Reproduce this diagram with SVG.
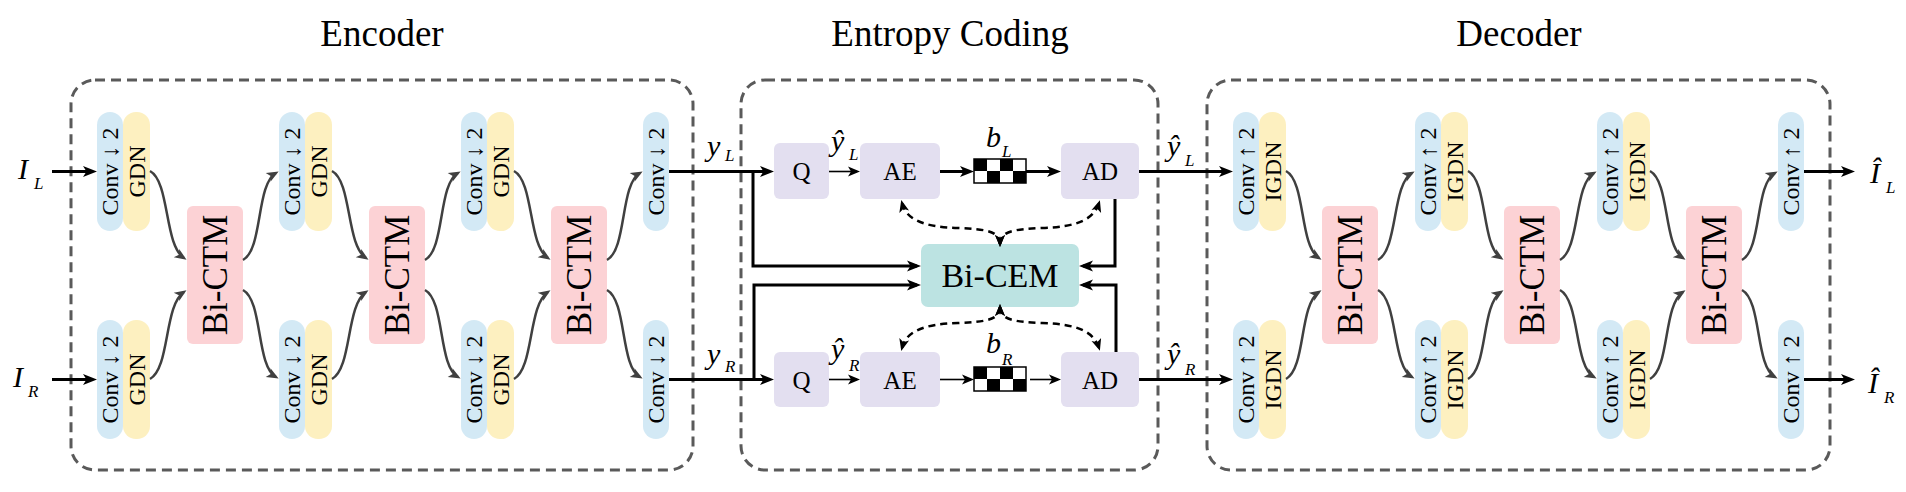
<svg xmlns="http://www.w3.org/2000/svg" width="1906" height="492" viewBox="0 0 1906 492">
<style>
text{font-family:'Liberation Serif','Times New Roman','DejaVu Serif',serif;fill:#000}
.title{font-size:37px;text-anchor:middle}
.box{fill:none;stroke:#5a5a5a;stroke-width:3;stroke-dasharray:10 6}
.cb{fill:#d3e9f5}
.cy{fill:#fdf0c0}
.ctm{fill:#fcd2d5}
.ent{fill:#e3dff0}
.cem{fill:#bce3e2}
.rt{font-size:24px;text-anchor:middle}
.bt{font-size:35px;text-anchor:middle}
.et{font-size:25px;text-anchor:middle}
.mi{font-style:italic;font-size:30px}
.sub{font-style:italic;font-size:17px}
.thick{fill:none;stroke:#000;stroke-width:3}
.thin{fill:none;stroke:#000;stroke-width:1.6}
.curve{fill:none;stroke:#404040;stroke-width:2.5}
.dash{fill:none;stroke:#000;stroke-width:2.5;stroke-dasharray:7 5}
</style>
<defs>
<marker id="ak" viewBox="-11 -6 16 12" refX="0" refY="0" markerWidth="16" markerHeight="12" markerUnits="userSpaceOnUse" orient="auto"><path d="M4,0 L-10,-5.5 L-6.5,0 L-10,5.5 Z" fill="#000"/></marker>
<marker id="at" viewBox="-10 -6 14 12" refX="0" refY="0" markerWidth="14" markerHeight="12" markerUnits="userSpaceOnUse" orient="auto"><path d="M3,0 L-9,-5 L-6,0 L-9,5 Z" fill="#000"/></marker>
<marker id="ad" viewBox="-10 -6 14 12" refX="0" refY="0" markerWidth="14" markerHeight="12" markerUnits="userSpaceOnUse" orient="auto-start-reverse"><path d="M3,0 L-9,-5 L-6,0 L-9,5 Z" fill="#000"/></marker>
<marker id="ag" viewBox="-10 -6 14 12" refX="0" refY="0" markerWidth="14" markerHeight="12" markerUnits="userSpaceOnUse" orient="auto"><path d="M3,0 L-9,-5 L-6,0 L-9,5 Z" fill="#404040"/></marker>
</defs>
<rect width="1906" height="492" fill="#fff"/>

<!-- titles and frames -->
<g id="encoder-frame"><rect class="box" x="71" y="80" width="622" height="390" rx="24"/><text class="title" x="382" y="46">Encoder</text></g>
<g id="entropy-frame"><rect class="box" x="741" y="80" width="417" height="390" rx="24"/><text class="title" x="950" y="46">Entropy Coding</text></g>
<g id="decoder-frame"><rect class="box" x="1207" y="80" width="623" height="390" rx="24"/><text class="title" x="1519" y="46">Decoder</text></g>

<!-- Encoder nodes -->
<g id="enc-conv1-L"><rect class="cb" x="97" y="112" width="26" height="119" rx="13"/><rect class="cy" x="123" y="112" width="27" height="119" rx="13"/><text class="rt" transform="translate(110,171.5) rotate(-90)" y="8">Conv ↓ 2</text><text class="rt" transform="translate(136.5,171.5) rotate(-90)" y="8">GDN</text></g>
<g id="enc-conv1-R"><rect class="cb" x="97" y="320" width="26" height="119" rx="13"/><rect class="cy" x="123" y="320" width="27" height="119" rx="13"/><text class="rt" transform="translate(110,379.5) rotate(-90)" y="8">Conv ↓ 2</text><text class="rt" transform="translate(136.5,379.5) rotate(-90)" y="8">GDN</text></g>
<g id="enc-bictm1"><rect class="ctm" x="187" y="206" width="56" height="138" rx="6"/><text class="bt" transform="translate(215,275) rotate(-90)" y="12">Bi-CTM</text></g>
<g id="enc-conv2-L"><rect class="cb" x="279" y="112" width="26" height="119" rx="13"/><rect class="cy" x="305" y="112" width="27" height="119" rx="13"/><text class="rt" transform="translate(292,171.5) rotate(-90)" y="8">Conv ↓ 2</text><text class="rt" transform="translate(318.5,171.5) rotate(-90)" y="8">GDN</text></g>
<g id="enc-conv2-R"><rect class="cb" x="279" y="320" width="26" height="119" rx="13"/><rect class="cy" x="305" y="320" width="27" height="119" rx="13"/><text class="rt" transform="translate(292,379.5) rotate(-90)" y="8">Conv ↓ 2</text><text class="rt" transform="translate(318.5,379.5) rotate(-90)" y="8">GDN</text></g>
<g id="enc-bictm2"><rect class="ctm" x="369" y="206" width="56" height="138" rx="6"/><text class="bt" transform="translate(397,275) rotate(-90)" y="12">Bi-CTM</text></g>
<g id="enc-conv3-L"><rect class="cb" x="461" y="112" width="26" height="119" rx="13"/><rect class="cy" x="487" y="112" width="27" height="119" rx="13"/><text class="rt" transform="translate(474,171.5) rotate(-90)" y="8">Conv ↓ 2</text><text class="rt" transform="translate(500.5,171.5) rotate(-90)" y="8">GDN</text></g>
<g id="enc-conv3-R"><rect class="cb" x="461" y="320" width="26" height="119" rx="13"/><rect class="cy" x="487" y="320" width="27" height="119" rx="13"/><text class="rt" transform="translate(474,379.5) rotate(-90)" y="8">Conv ↓ 2</text><text class="rt" transform="translate(500.5,379.5) rotate(-90)" y="8">GDN</text></g>
<g id="enc-bictm3"><rect class="ctm" x="551" y="206" width="56" height="138" rx="6"/><text class="bt" transform="translate(579,275) rotate(-90)" y="12">Bi-CTM</text></g>
<g id="enc-conv4-L"><rect class="cb" x="643" y="112" width="26" height="119" rx="13"/><text class="rt" transform="translate(656,171.5) rotate(-90)" y="8">Conv ↓ 2</text></g>
<g id="enc-conv4-R"><rect class="cb" x="643" y="320" width="26" height="119" rx="13"/><text class="rt" transform="translate(656,379.5) rotate(-90)" y="8">Conv ↓ 2</text></g>

<!-- Entropy coding nodes -->
<g id="q-L"><rect class="ent" x="774" y="143" width="55" height="56" rx="6"/><text class="et" x="801.5" y="180">Q</text></g>
<g id="ae-L"><rect class="ent" x="860" y="143" width="80" height="56" rx="6"/><text class="et" x="900" y="180">AE</text></g>
<g id="bits-L"><rect x="974" y="159" width="52" height="24" fill="#fff" stroke="#000" stroke-width="1.5"/><rect x="974" y="159" width="13" height="12"/><rect x="1000" y="159" width="13" height="12"/><rect x="987" y="171" width="13" height="12"/><rect x="1013" y="171" width="13" height="12"/></g>
<g id="ad-L"><rect class="ent" x="1061" y="143" width="78" height="56" rx="6"/><text class="et" x="1100" y="180">AD</text></g>
<g id="bicem"><rect class="cem" x="921" y="244" width="158" height="63" rx="7"/><text x="1000" y="287" style="font-size:34px;text-anchor:middle">Bi-CEM</text></g>
<g id="q-R"><rect class="ent" x="774" y="352" width="55" height="55" rx="6"/><text class="et" x="801.5" y="388.5">Q</text></g>
<g id="ae-R"><rect class="ent" x="860" y="352" width="80" height="55" rx="6"/><text class="et" x="900" y="388.5">AE</text></g>
<g id="bits-R"><rect x="974" y="367" width="52" height="24" fill="#fff" stroke="#000" stroke-width="1.5"/><rect x="974" y="367" width="13" height="12"/><rect x="1000" y="367" width="13" height="12"/><rect x="987" y="379" width="13" height="12"/><rect x="1013" y="379" width="13" height="12"/></g>
<g id="ad-R"><rect class="ent" x="1061" y="352" width="78" height="55" rx="6"/><text class="et" x="1100" y="388.5">AD</text></g>

<!-- Decoder nodes -->
<g id="dec-conv1-L"><rect class="cb" x="1233" y="112" width="26" height="119" rx="13"/><rect class="cy" x="1259" y="112" width="27" height="119" rx="13"/><text class="rt" transform="translate(1246,171.5) rotate(-90)" y="8">Conv ↑ 2</text><text class="rt" transform="translate(1272.5,171.5) rotate(-90)" y="8">IGDN</text></g>
<g id="dec-conv1-R"><rect class="cb" x="1233" y="320" width="26" height="119" rx="13"/><rect class="cy" x="1259" y="320" width="27" height="119" rx="13"/><text class="rt" transform="translate(1246,379.5) rotate(-90)" y="8">Conv ↑ 2</text><text class="rt" transform="translate(1272.5,379.5) rotate(-90)" y="8">IGDN</text></g>
<g id="dec-bictm1"><rect class="ctm" x="1322" y="206" width="56" height="138" rx="6"/><text class="bt" transform="translate(1350,275) rotate(-90)" y="12">Bi-CTM</text></g>
<g id="dec-conv2-L"><rect class="cb" x="1415" y="112" width="26" height="119" rx="13"/><rect class="cy" x="1441" y="112" width="27" height="119" rx="13"/><text class="rt" transform="translate(1428,171.5) rotate(-90)" y="8">Conv ↑ 2</text><text class="rt" transform="translate(1454.5,171.5) rotate(-90)" y="8">IGDN</text></g>
<g id="dec-conv2-R"><rect class="cb" x="1415" y="320" width="26" height="119" rx="13"/><rect class="cy" x="1441" y="320" width="27" height="119" rx="13"/><text class="rt" transform="translate(1428,379.5) rotate(-90)" y="8">Conv ↑ 2</text><text class="rt" transform="translate(1454.5,379.5) rotate(-90)" y="8">IGDN</text></g>
<g id="dec-bictm2"><rect class="ctm" x="1504" y="206" width="56" height="138" rx="6"/><text class="bt" transform="translate(1532,275) rotate(-90)" y="12">Bi-CTM</text></g>
<g id="dec-conv3-L"><rect class="cb" x="1597" y="112" width="26" height="119" rx="13"/><rect class="cy" x="1623" y="112" width="27" height="119" rx="13"/><text class="rt" transform="translate(1610,171.5) rotate(-90)" y="8">Conv ↑ 2</text><text class="rt" transform="translate(1636.5,171.5) rotate(-90)" y="8">IGDN</text></g>
<g id="dec-conv3-R"><rect class="cb" x="1597" y="320" width="26" height="119" rx="13"/><rect class="cy" x="1623" y="320" width="27" height="119" rx="13"/><text class="rt" transform="translate(1610,379.5) rotate(-90)" y="8">Conv ↑ 2</text><text class="rt" transform="translate(1636.5,379.5) rotate(-90)" y="8">IGDN</text></g>
<g id="dec-bictm3"><rect class="ctm" x="1686" y="206" width="56" height="138" rx="6"/><text class="bt" transform="translate(1714,275) rotate(-90)" y="12">Bi-CTM</text></g>
<g id="dec-conv4-L"><rect class="cb" x="1778" y="112" width="26" height="119" rx="13"/><text class="rt" transform="translate(1791,171.5) rotate(-90)" y="8">Conv ↑ 2</text></g>
<g id="dec-conv4-R"><rect class="cb" x="1778" y="320" width="26" height="119" rx="13"/><text class="rt" transform="translate(1791,379.5) rotate(-90)" y="8">Conv ↑ 2</text></g>

<!-- connectors -->
<g id="connectors">
<path class="thick" d="M52,171.5 H93" marker-end="url(#ak)"/>
<path class="thick" d="M52,379.5 H93" marker-end="url(#ak)"/>
<path class="curve" d="M150,171 C170,182 164,245 184,258" marker-end="url(#ag)"/>
<path class="curve" d="M150,379 C170,368 164,305 184,292" marker-end="url(#ag)"/>
<path class="curve" d="M243,260 C263,249 256,184 276,173" marker-end="url(#ag)"/>
<path class="curve" d="M243,290 C263,301 256,366 276,377" marker-end="url(#ag)"/>
<path class="curve" d="M332,171 C352,182 346,245 366,258" marker-end="url(#ag)"/>
<path class="curve" d="M332,379 C352,368 346,305 366,292" marker-end="url(#ag)"/>
<path class="curve" d="M425,260 C445,249 438,184 458,173" marker-end="url(#ag)"/>
<path class="curve" d="M425,290 C445,301 438,366 458,377" marker-end="url(#ag)"/>
<path class="curve" d="M514,171 C534,182 528,245 548,258" marker-end="url(#ag)"/>
<path class="curve" d="M514,379 C534,368 528,305 548,292" marker-end="url(#ag)"/>
<path class="curve" d="M607,260 C627,249 620,184 640,173" marker-end="url(#ag)"/>
<path class="curve" d="M607,290 C627,301 620,366 640,377" marker-end="url(#ag)"/>
<path class="thick" d="M669,171.5 H770" marker-end="url(#ak)"/>
<path class="thick" d="M669,379.5 H770" marker-end="url(#ak)"/>
<path class="thick" d="M753,171.5 V266 H917" marker-end="url(#ak)"/>
<path class="thick" d="M754,379.5 V285 H917" marker-end="url(#ak)"/>
<path class="thick" d="M1115,199 V266 H1083" marker-end="url(#ak)"/>
<path class="thick" d="M1116,352 V285 H1083" marker-end="url(#ak)"/>
<path class="thin" d="M829,171.5 H857" marker-end="url(#at)"/>
<path class="thick" d="M940,171.5 H970" marker-end="url(#ak)"/>
<path class="thick" d="M1026,171.5 H1057" marker-end="url(#ak)"/>
<path class="thin" d="M829,379.5 H857" marker-end="url(#at)"/>
<path class="thin" d="M940,379.5 H971" marker-end="url(#at)"/>
<path class="thin" d="M1030,379.5 H1058" marker-end="url(#at)"/>
<path class="dash" d="M1000,244 C1000,232 988,229 958,228 C922,227 906,219 902,203" marker-start="url(#ad)" marker-end="url(#ad)"/>
<path class="dash" d="M1000,244 C1000,232 1012,229 1042,228 C1078,227 1094,219 1099,203" marker-start="url(#ad)" marker-end="url(#ad)"/>
<path class="dash" d="M1000,307 C1000,319 988,322 958,323 C922,324 906,332 902,348" marker-start="url(#ad)" marker-end="url(#ad)"/>
<path class="dash" d="M1000,307 C1000,319 1012,322 1042,323 C1078,324 1094,332 1099,348" marker-start="url(#ad)" marker-end="url(#ad)"/>
<path class="thick" d="M1139,171.5 H1229" marker-end="url(#ak)"/>
<path class="thick" d="M1139,379.5 H1229" marker-end="url(#ak)"/>
<path class="curve" d="M1286,171 C1306,182 1299,245 1319,258" marker-end="url(#ag)"/>
<path class="curve" d="M1286,379 C1306,368 1299,305 1319,292" marker-end="url(#ag)"/>
<path class="curve" d="M1378,260 C1398,249 1392,184 1412,173" marker-end="url(#ag)"/>
<path class="curve" d="M1378,290 C1398,301 1392,366 1412,377" marker-end="url(#ag)"/>
<path class="curve" d="M1468,171 C1488,182 1481,245 1501,258" marker-end="url(#ag)"/>
<path class="curve" d="M1468,379 C1488,368 1481,305 1501,292" marker-end="url(#ag)"/>
<path class="curve" d="M1560,260 C1580,249 1574,184 1594,173" marker-end="url(#ag)"/>
<path class="curve" d="M1560,290 C1580,301 1574,366 1594,377" marker-end="url(#ag)"/>
<path class="curve" d="M1650,171 C1670,182 1663,245 1683,258" marker-end="url(#ag)"/>
<path class="curve" d="M1650,379 C1670,368 1663,305 1683,292" marker-end="url(#ag)"/>
<path class="curve" d="M1742,260 C1762,249 1755,184 1775,173" marker-end="url(#ag)"/>
<path class="curve" d="M1742,290 C1762,301 1755,366 1775,377" marker-end="url(#ag)"/>
<path class="thick" d="M1804,171.5 H1851" marker-end="url(#ak)"/>
<path class="thick" d="M1804,379.5 H1851" marker-end="url(#ak)"/>
</g>

<!-- labels -->
<g id="labels">
<text class="mi" x="18" y="179">I</text><text class="sub" x="34" y="189">L</text>
<text class="mi" x="13" y="387">I</text><text class="sub" x="28" y="397">R</text>
<text class="mi" x="707" y="156">y</text><text class="sub" x="725" y="161">L</text>
<text class="mi" x="707" y="364">y</text><text class="sub" x="725" y="372">R</text>
<text class="mi" x="831" y="151">ŷ</text><text class="sub" x="849" y="160">L</text>
<text class="mi" x="831" y="359">ŷ</text><text class="sub" x="849" y="371">R</text>
<text class="mi" x="986" y="147">b</text><text class="sub" x="1002" y="157">L</text>
<text class="mi" x="986" y="353">b</text><text class="sub" x="1002" y="365">R</text>
<text class="mi" x="1167" y="156">ŷ</text><text class="sub" x="1185" y="166">L</text>
<text class="mi" x="1167" y="364">ŷ</text><text class="sub" x="1185" y="375">R</text>
<text class="mi" x="1870" y="183">Î</text><text class="sub" x="1886" y="193">L</text>
<text class="mi" x="1868" y="393">Î</text><text class="sub" x="1884" y="403">R</text>
</g>
</svg>
